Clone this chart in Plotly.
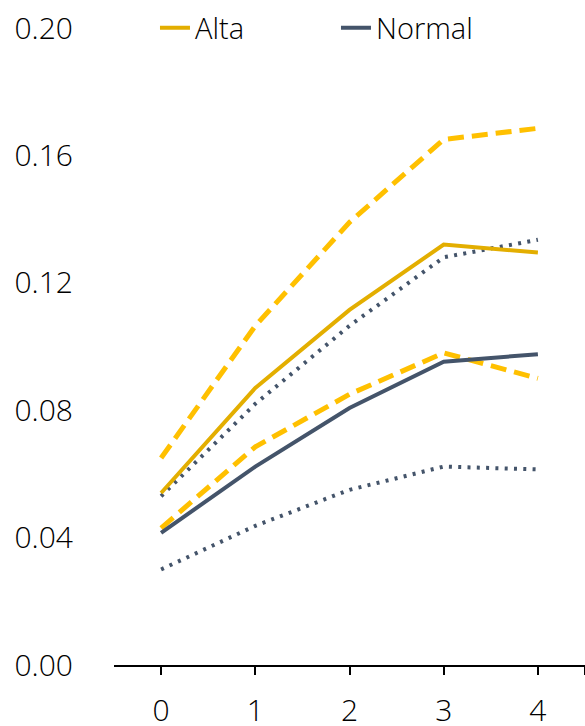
import plotly.graph_objects as go

# Horizon (periods) and series values
periods = [0, 1, 2, 3, 4]
tick_labels = ["0", "1", "2", "3", "4"]

alta = [0.054, 0.087, 0.1115, 0.132, 0.1295]
alta_upper = [0.065, 0.1065, 0.139, 0.165, 0.1685]
alta_lower = [0.043, 0.0685, 0.085, 0.098, 0.090]

normal = [0.0415, 0.0623, 0.0807, 0.0952, 0.0976]
normal_upper = [0.053, 0.082, 0.1065, 0.128, 0.1335]
normal_lower = [0.030, 0.0437, 0.055, 0.0623, 0.0614]

GOLD = "#E3AE00"
GOLD_BAND = "#FFC000"
SLATE = "#44546A"

FONT = "Open Sans"

fig = go.Figure()

# confidence bands
for ys in (alta_upper, alta_lower):
    fig.add_trace(go.Scatter(x=periods, y=ys, mode="lines", showlegend=False,
                             line=dict(color=GOLD_BAND, width=5, dash="16px,8px")))
for ys in (normal_upper, normal_lower):
    fig.add_trace(go.Scatter(x=periods, y=ys, mode="lines", showlegend=False,
                             line=dict(color=SLATE, width=4, dash="3px,6.3px")))

# central paths
fig.add_trace(go.Scatter(x=periods, y=alta, mode="lines", name="Alta",
                         line=dict(color=GOLD, width=4)))
fig.add_trace(go.Scatter(x=periods, y=normal, mode="lines", name="Normal",
                         line=dict(color=SLATE, width=4)))

fig.update_layout(
    width=585, height=726,
    margin=dict(l=114, r=0, t=28, b=61),
    paper_bgcolor="white", plot_bgcolor="white",
    font=dict(family=FONT, size=29, color="#000000", weight=300),
    legend=dict(orientation="h", x=0.087, y=1.0, xanchor="left", yanchor="middle",
                bgcolor="rgba(0,0,0,0)", font=dict(size=29, family=FONT, weight=300),
                itemwidth=30, entrywidth=136, entrywidthmode="pixels",
                traceorder="normal"),
    xaxis=dict(range=[-0.5, 4.5], tickvals=periods + [4.5], ticktext=tick_labels + [""],
               showgrid=False, zeroline=False, showline=True, linecolor="#000000",
               linewidth=2, ticks="outside", ticklen=8, tickwidth=2, tickcolor="#000000",
               ticklabelstandoff=10, automargin=False,
               tickfont=dict(size=30, family=FONT, weight=300)),
    yaxis=dict(range=[0, 0.2], tickvals=[0, 0.04, 0.08, 0.12, 0.16, 0.20],
               ticktext=["0.00", "0.04", "0.08", "0.12", "0.16", "0.20"],
               showgrid=False, zeroline=False, showline=False, ticks="",
               ticklabelstandoff=40, automargin=False,
               tickfont=dict(size=30, family=FONT, weight=300)),
)

fig.write_html("out.html")
